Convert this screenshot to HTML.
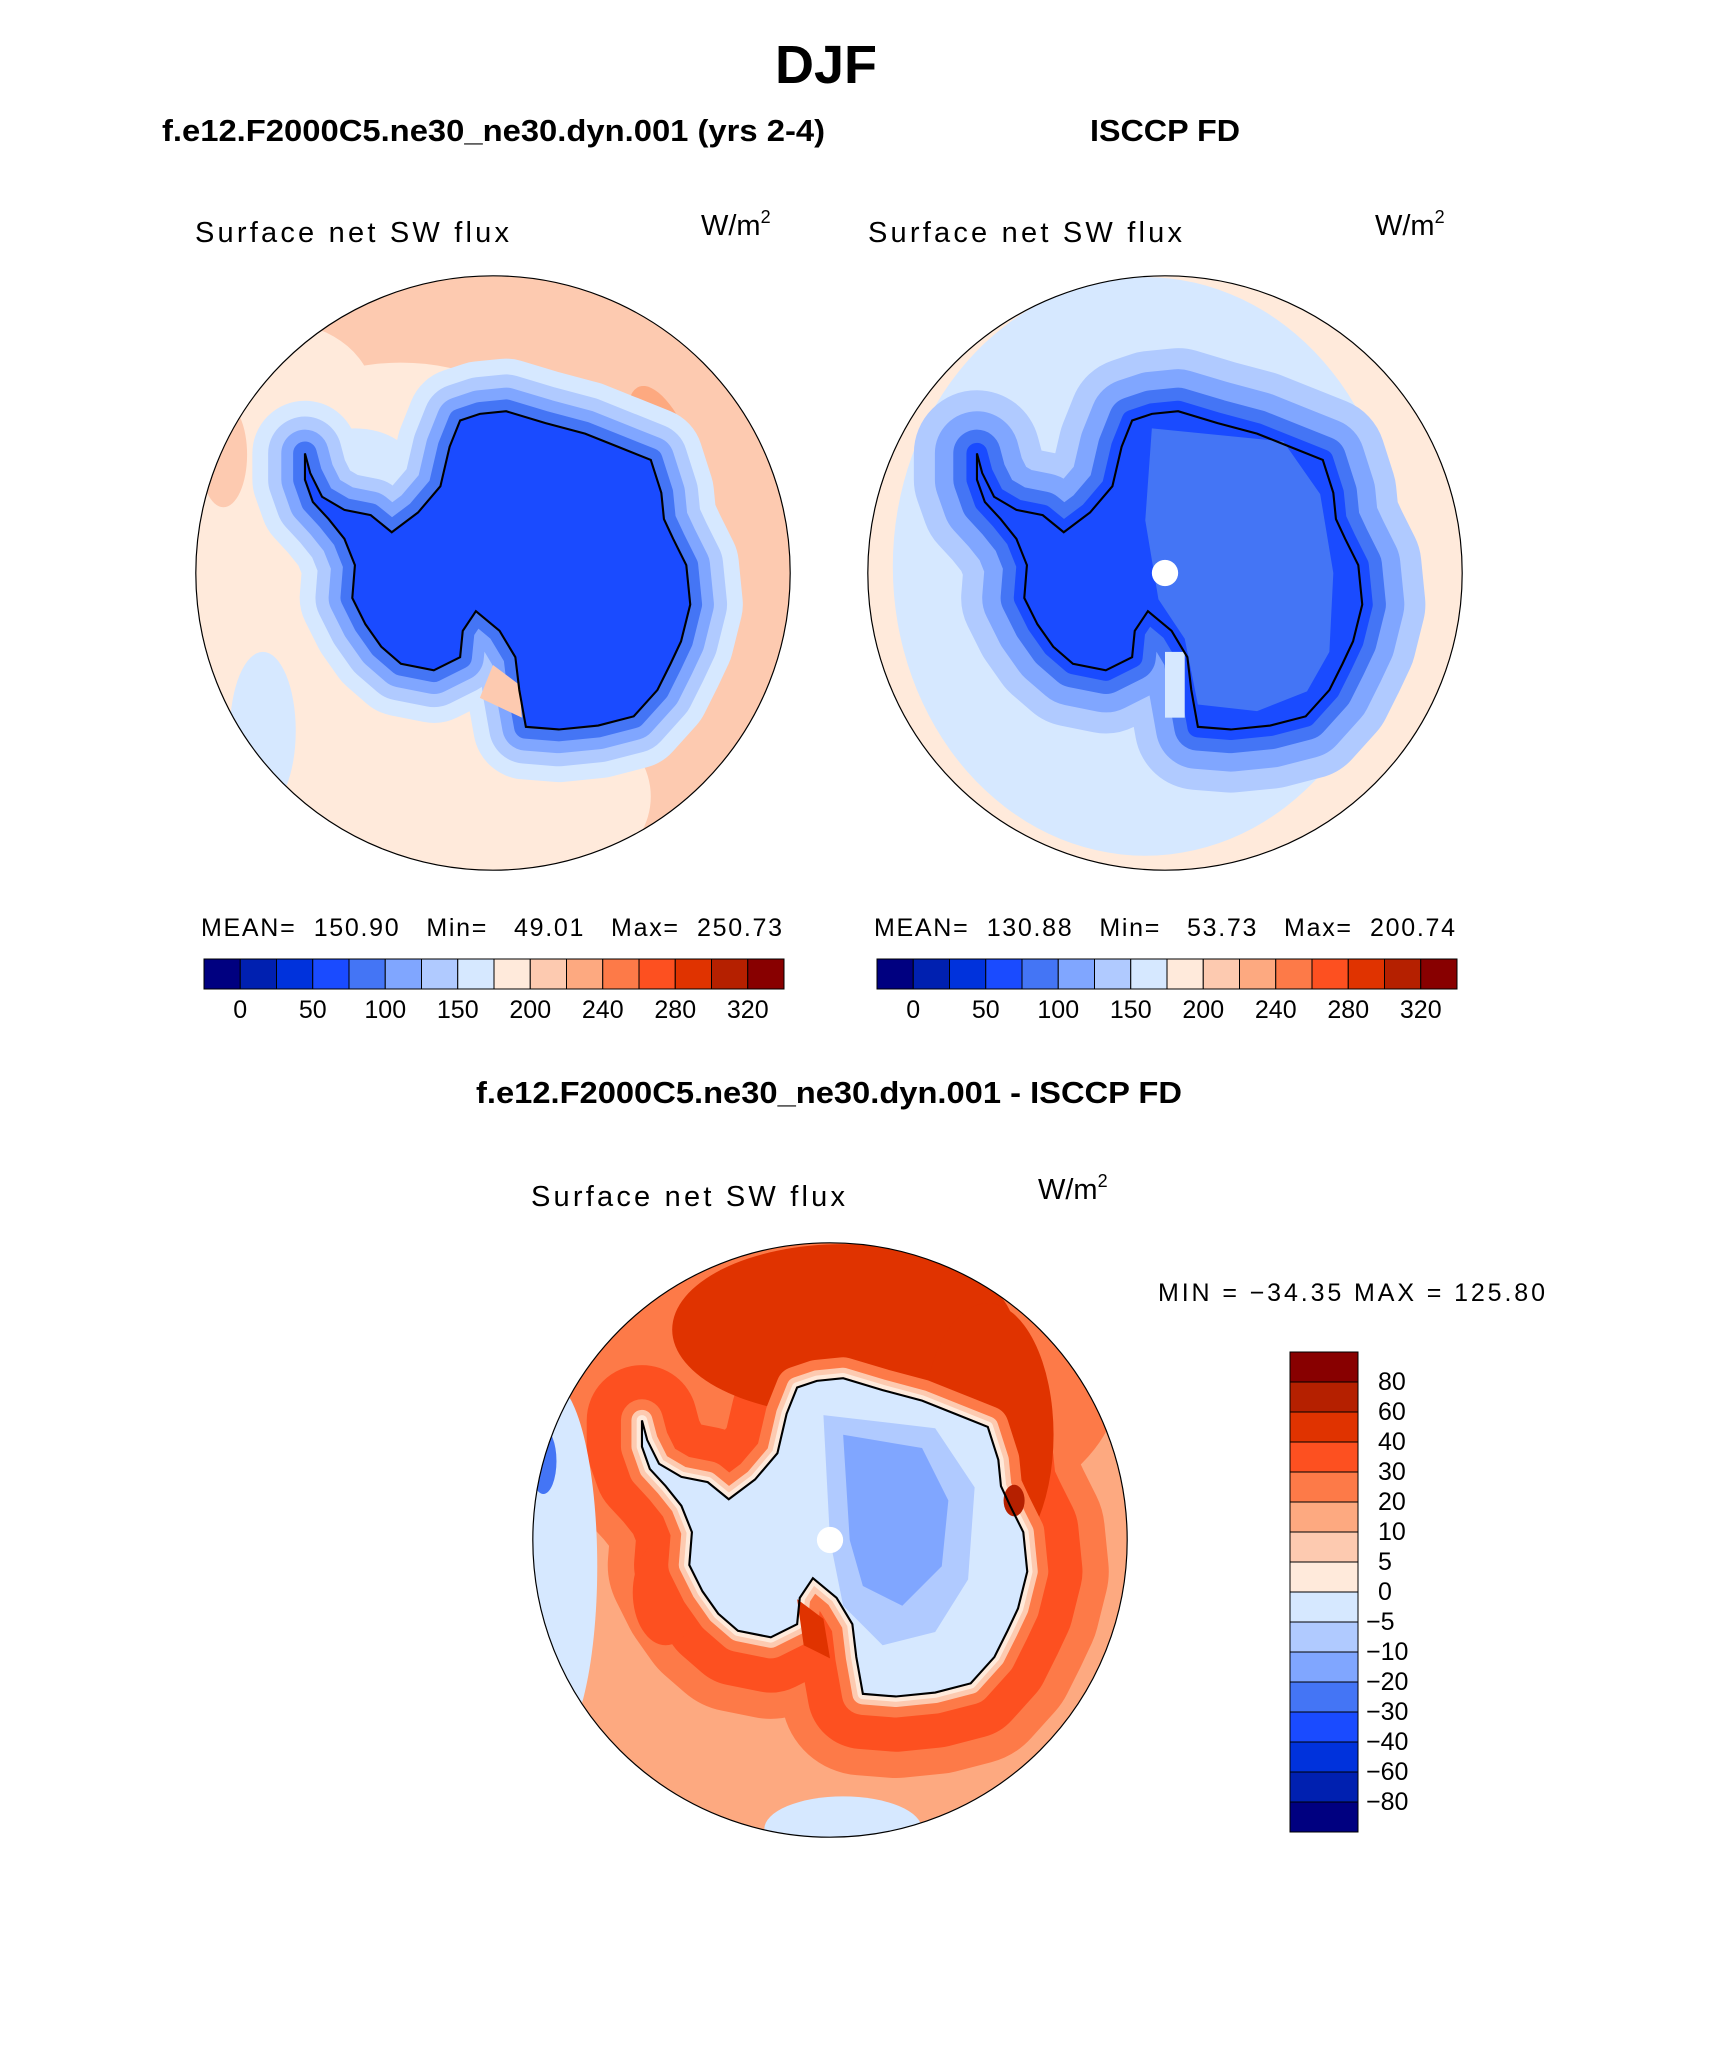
<!DOCTYPE html>
<html><head><meta charset="utf-8"><style>
html,body{margin:0;padding:0;background:#fff;}
body{width:1710px;height:2061px;position:relative;overflow:hidden;font-family:"Liberation Sans",sans-serif;}
svg{position:absolute;left:0;top:0;}
</style></head><body>
<svg id="fig" width="1710" height="2061" viewBox="0 0 1710 2061" xmlns="http://www.w3.org/2000/svg">
<text x="826" y="83" text-anchor="middle" font-family="Liberation Sans, sans-serif" font-weight="bold" font-size="54">DJF</text>
<text x="162" y="141" textLength="663" lengthAdjust="spacingAndGlyphs" font-weight="bold" font-size="31">f.e12.F2000C5.ne30_ne30.dyn.001 (yrs 2-4)</text>
<text x="1090" y="141" textLength="150" lengthAdjust="spacingAndGlyphs" font-weight="bold" font-size="31">ISCCP FD</text>
<text x="476" y="1103" textLength="706" lengthAdjust="spacingAndGlyphs" font-weight="bold" font-size="31">f.e12.F2000C5.ne30_ne30.dyn.001 - ISCCP FD</text>

<text x="195" y="242" textLength="314" font-size="29">Surface net SW flux</text>
<text x="701" y="235" font-size="29">W/m<tspan font-size="18" dy="-12">2</tspan></text>
<text x="868" y="242" textLength="314" font-size="29">Surface net SW flux</text>
<text x="1375" y="235" font-size="29">W/m<tspan font-size="18" dy="-12">2</tspan></text>
<text x="531" y="1206" textLength="314" font-size="29">Surface net SW flux</text>
<text x="1038" y="1199" font-size="29">W/m<tspan font-size="18" dy="-12">2</tspan></text>

<text x="201" y="936" textLength="581" font-size="25" xml:space="preserve">MEAN=  150.90   Min=   49.01   Max=  250.73</text>
<text x="874" y="936" textLength="581" font-size="25" xml:space="preserve">MEAN=  130.88   Min=   53.73   Max=  200.74</text>
<text x="1158" y="1301" textLength="387" font-size="25" xml:space="preserve">MIN = −34.35 MAX = 125.80</text>

<defs>
<clipPath id="c1"><circle cx="0" cy="0" r="226"/></clipPath>
</defs>
<g id="maps"></g>
<g id="bars"></g>
</svg>
<script>
const levels = ["0","50","100","150","200","240","280","320"];
const colors = ["#000080","#0020b0","#0032dc","#1a4bff","#4475f5","#80a6ff","#b0caff","#d6e8ff","#ffeadb","#fdcab0","#fda980","#fd7a48","#fd5020","#e03300","#b52000","#880000"];
const diffLevels = ["80","60","40","30","20","10","5","0","−5","−10","−20","−30","−40","−60","−80"];
const diffColors = ["#880000","#b52000","#e03300","#fd5020","#fd7a48","#fda980","#fdcab0","#ffeadb","#d6e8ff","#b0caff","#80a6ff","#4475f5","#1a4bff","#0032dc","#0020b0","#000080"];

const NS="http://www.w3.org/2000/svg";
function mk(tag,attrs,parent){const e=document.createElementNS(NS,tag);for(const k in attrs)e.setAttribute(k,attrs[k]);parent.appendChild(e);return e;}

const coast=[[-143,-91],[-139,-76],[-130,-58],[-113,-48],[-93,-44],[-77,-31],[-57,-46],[-40,-66],[-33,-96],[-25,-116],[-10,-121],[10,-123],[40,-114],[70,-106],[95,-96],[120,-86],[128,-61],[130,-41],[137,-26],[147,-6],[150,24],[143,52],[135,69],[125,89],[107,109],[80,116],[50,119],[25,117],[20,89],[17,64],[5,44],[-13,29],[-23,44],[-25,64],[-45,74],[-70,69],[-85,56],[-97,39],[-107,19],[-105,-6],[-113,-26],[-125,-41],[-137,-54],[-143,-71]];
const coastD="M"+coast.map(p=>p[0]+","+p[1]).join("L")+"Z";
function halo(g,off,color){
  mk('path',{d:coastD,fill:color,stroke:color,'stroke-width':2*off,'stroke-linejoin':'round'},g);
}

const maps=document.getElementById('maps');
function mapGroup(cx,cy,name){
  const g=mk('g',{transform:`translate(${cx},${cy}) scale(1.315)`},maps);
  
  
  const inner=mk('g',{'clip-path':'url(#c1)'},g);
  return [g,inner];
}
function finish(g,pole){
  if(pole) mk('circle',{cx:0,cy:0,r:10,fill:'#fff'},g);
  const cl=mk('path',{d:coastD,fill:'none',stroke:'#000','stroke-width':1.6},g);
  
  
  const b=mk('circle',{cx:0,cy:0,r:226,fill:'none',stroke:'#000','stroke-width':0.9},g);
  
  
}

// Map 1 (model)
let [g1,i1]=mapGroup(493,573,'model-map');
mk('circle',{cx:0,cy:0,r:226,fill:'#fdcab0'},i1);
mk('ellipse',{cx:-70,cy:50,rx:190,ry:210,fill:'#ffeadb'},i1);
mk('ellipse',{cx:0,cy:170,rx:120,ry:80,fill:'#ffeadb'},i1);
mk('ellipse',{cx:-160,cy:-130,rx:70,ry:60,fill:'#ffeadb'},i1);
mk('ellipse',{cx:130,cy:-90,rx:22,ry:55,fill:'#fda980',transform:'rotate(-20 130 -90)'},i1);
mk('ellipse',{cx:-205,cy:-90,rx:18,ry:40,fill:'#fdcab0'},i1);
mk('ellipse',{cx:-175,cy:120,rx:25,ry:60,fill:'#d6e8ff'},i1);
mk('ellipse',{cx:-105,cy:-80,rx:45,ry:30,fill:'#d6e8ff'},i1);
halo(i1,40,'#d6e8ff');
halo(i1,28,'#b0caff');
halo(i1,18,'#80a6ff');
halo(i1,9,'#4475f5');
mk('path',{d:coastD,fill:'#1a4bff'},i1);
mk('path',{d:"M0,70 L20,85 L22,110 L-10,95 Z",fill:'#fdcab0'},i1);
finish(g1,false);

// Map 2 (obs)
let [g2,i2]=mapGroup(1165,573,'observation-map');
mk('circle',{cx:0,cy:0,r:226,fill:'#ffeadb'},i2);
mk('ellipse',{cx:-15,cy:-5,rx:192,ry:220,fill:'#d6e8ff'},i2);
halo(i2,48,'#b0caff');
halo(i2,32,'#80a6ff');
halo(i2,18,'#4475f5');
halo(i2,8,'#1a4bff');
mk('path',{d:coastD,fill:'#1a4bff'},i2);
mk('path',{d:"M-10,-110 L90,-100 L118,-60 L128,0 L125,60 L108,90 L70,105 L25,100 L15,50 L-5,20 L-15,-40 Z",fill:'#4475f5'},i2);
mk('rect',{x:0,y:60,width:15,height:50,fill:'#d6e8ff'},i2);
finish(g2,true);

// Map 3 (difference)
let [g3,i3]=mapGroup(830,1540,'difference-map');
mk('circle',{cx:0,cy:0,r:226,fill:'#fda980'},i3);
mk('ellipse',{cx:20,cy:-120,rx:200,ry:120,fill:'#fd7a48'},i3);
halo(i3,62,'#fd7a48');
halo(i3,42,'#fd5020');
mk('ellipse',{cx:10,cy:-160,rx:130,ry:65,fill:'#e03300'},i3);
mk('ellipse',{cx:120,cy:-80,rx:50,ry:100,fill:'#e03300'},i3);
mk('ellipse',{cx:-125,cy:40,rx:25,ry:40,fill:'#fd5020'},i3);
halo(i3,16,'#fd7a48');
halo(i3,8,'#fdcab0');
halo(i3,4,'#ffeadb');
mk('path',{d:coastD,fill:'#d6e8ff'},i3);
mk('path',{d:"M-5,-95 L80,-85 L110,-40 L105,30 L80,70 L40,80 L10,50 L0,0 Z",fill:'#b0caff'},i3);
mk('path',{d:"M10,-80 L70,-70 L90,-30 L85,20 L55,50 L25,35 L15,0 Z",fill:'#80a6ff'},i3);
mk('path',{d:"M-25,45 L-5,60 L0,90 L-20,80 Z",fill:'#e03300'},i3);
mk('ellipse',{cx:140,cy:-30,rx:8,ry:12,fill:'#b52000'},i3);
mk('ellipse',{cx:-212,cy:20,rx:35,ry:140,fill:'#d6e8ff'},i3);
mk('ellipse',{cx:-218,cy:-60,rx:10,ry:25,fill:'#4475f5'},i3);
mk('ellipse',{cx:10,cy:220,rx:60,ry:25,fill:'#d6e8ff'},i3);
finish(g3,true);

// Horizontal colorbars
const bars=document.getElementById('bars');
function hbar(x0,name){
  const w=36.25,y0=959,h=30;
  const g=mk('g',{},bars);
  
  
  colors.forEach((c,i)=>{
    const r=mk('rect',{x:x0+i*w,y:y0,width:w,height:h,fill:c,stroke:'#000','stroke-width':1},g);
    
    
  });
  levels.forEach((l,i)=>{
    const t=mk('text',{x:x0+(2*i+1)*w,y:1018,'text-anchor':'middle','font-size':25},g);
    
    
    t.textContent=l;
  });
}
hbar(204,'left-colorbar');
hbar(877,'right-colorbar');

// Vertical colorbar
(function(){
  const x0=1290,y0=1352,w=68,h=30;
  const g=mk('g',{},bars);
  
  
  diffColors.forEach((c,i)=>{
    const r=mk('rect',{x:x0,y:y0+i*h,width:w,height:h,fill:c,stroke:'#000','stroke-width':1},g);
    
    
  });
  diffLevels.forEach((l,i)=>{
    const t=mk('text',{x:l.startsWith('−')?1366:1378,y:y0+(i+1)*h+8,'font-size':25},g);
    
    
    t.textContent=l;
  });
})();
</script>
</body></html>
